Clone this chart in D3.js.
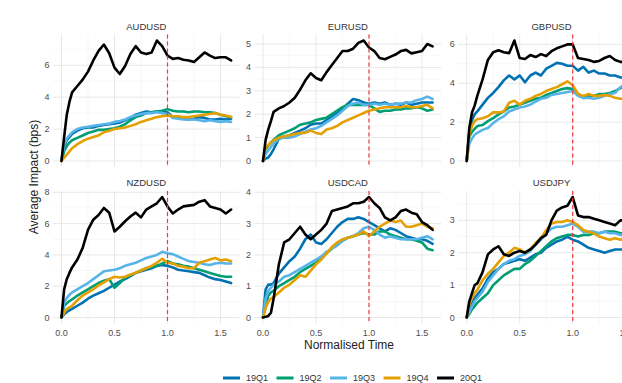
<!DOCTYPE html>
<html>
<head>
<meta charset="utf-8">
<script src="https://cdn.jsdelivr.net/npm/d3@7"></script>
<style>
  body { margin: 0; overflow: hidden; background: #fff; }
  text { font-family: "Liberation Sans", Arial, sans-serif; }
</style>
</head>
<body>
<svg id="chart" width="622" height="383"></svg>
<script>
// normalised time grid shared by every series
const time = [0, 0.025, 0.05, 0.075, 0.1, 0.15, 0.2, 0.25, 0.3, 0.35, 0.4, 0.45, 0.5, 0.55, 0.6, 0.65, 0.7, 0.75,
  0.8, 0.85, 0.9, 0.95, 1, 1.05, 1.1, 1.15, 1.2, 1.25, 1.3, 1.35, 1.4, 1.45, 1.5, 1.55, 1.6];

const quarters = ['19Q1', '19Q2', '19Q3', '19Q4', '20Q1'];
const colours = ['#0072B2', '#009E73', '#56B4E9', '#E69F00', '#000000'];
const pairs = ['AUDUSD', 'EURUSD', 'GBPUSD', 'NZDUSD', 'USDCAD', 'USDJPY'];

// one row per quarter, same order as `quarters`
const audusd = [
  [0, 0.9, 1.3, 1.5, 1.7, 1.9, 2.05, 2.1, 2.1, 2.2, 2.25, 2.3, 2.35, 2.4, 2.55, 2.7, 2.9, 3.0, 3.1, 3.05, 3.1, 3.1, 3.05, 2.75, 2.7, 2.65, 2.6, 2.65, 2.75, 2.7, 2.6, 2.6, 2.65, 2.6, 2.65],
  [0, 0.6, 0.95, 1.15, 1.3, 1.45, 1.6, 1.75, 1.85, 1.95, 1.95, 2.0, 2.05, 2.15, 2.3, 2.55, 2.75, 2.85, 3.0, 3.05, 3.1, 3.15, 3.25, 3.15, 3.1, 3.1, 3.05, 3.1, 3.1, 3.05, 3.05, 3.0, 2.9, 2.8, 2.75],
  [0, 1.0, 1.4, 1.6, 1.8, 2.0, 2.1, 2.15, 2.2, 2.25, 2.3, 2.35, 2.45, 2.5, 2.6, 2.75, 2.85, 2.95, 3.0, 3.0, 3.05, 3.0, 2.95, 2.7, 2.65, 2.6, 2.6, 2.6, 2.55, 2.5, 2.55, 2.5, 2.45, 2.5, 2.45],
  [0, 0.2, 0.4, 0.6, 0.8, 1.05, 1.25, 1.4, 1.5, 1.6, 1.8, 1.9, 2.0, 2.05, 2.1, 2.2, 2.3, 2.45, 2.55, 2.65, 2.75, 2.8, 2.85, 2.8, 2.8, 2.75, 2.75, 2.8, 2.85, 2.9, 2.95, 3.0, 2.9, 2.85, 2.75],
  [0, 1.5, 2.9, 3.7, 4.3, 4.7, 5.1, 5.6, 6.3, 6.9, 7.3, 6.75, 5.85, 5.45, 5.95, 6.7, 7.2, 6.8, 6.7, 6.8, 7.55, 7.2, 6.6, 6.4, 6.45, 6.35, 6.3, 6.2, 6.5, 6.8, 6.6, 6.45, 6.5, 6.5, 6.3]
];
const eurusd = [
  [0, 0.1, 0.15, 0.3, 0.5, 0.95, 1.05, 1.1, 1.2, 1.3, 1.4, 1.55, 1.6, 1.6, 1.75, 1.9, 2.05, 2.25, 2.45, 2.65, 2.6, 2.5, 2.45, 2.5, 2.45, 2.5, 2.4, 2.45, 2.4, 2.5, 2.4, 2.45, 2.5, 2.5, 2.5],
  [0, 0.5, 0.65, 0.8, 0.9, 1.1, 1.2, 1.3, 1.4, 1.55, 1.6, 1.65, 1.75, 1.8, 1.85, 2.0, 2.15, 2.3, 2.4, 2.4, 2.4, 2.4, 2.4, 2.25, 2.1, 2.15, 2.15, 2.2, 2.2, 2.25, 2.25, 2.3, 2.25, 2.15, 2.2],
  [0, 0.3, 0.45, 0.6, 0.75, 0.95, 1.0, 1.0, 1.05, 1.15, 1.25, 1.35, 1.4, 1.5, 1.65, 1.8, 1.95, 2.15, 2.35, 2.45, 2.5, 2.4, 2.4, 2.45, 2.4, 2.45, 2.4, 2.45, 2.45, 2.5, 2.5, 2.6, 2.65, 2.75, 2.65],
  [0, 0.6, 0.68, 0.8, 0.88, 1.0, 1.05, 1.1, 1.15, 1.2, 1.2, 1.3, 1.2, 1.15, 1.35, 1.4, 1.5, 1.65, 1.75, 1.85, 1.95, 2.05, 2.15, 2.2, 2.25, 2.3, 2.3, 2.3, 2.3, 2.35, 2.3, 2.3, 2.35, 2.4, 2.25],
  [0, 0.9, 1.35, 1.7, 2.1, 2.25, 2.35, 2.5, 2.7, 3.05, 3.45, 3.75, 3.55, 3.45, 3.8, 4.1, 4.4, 4.7, 4.7, 4.8, 5.05, 5.15, 4.85, 4.7, 4.4, 4.35, 4.45, 4.55, 4.7, 4.75, 4.6, 4.65, 4.7, 5.0, 4.9]
];
const gbpusd = [
  [0, 1.5, 2.1, 2.4, 2.55, 2.9, 3.25, 3.5, 3.8, 4.15, 4.4, 4.2, 4.4, 4.05, 4.4, 4.55, 4.4, 4.75, 4.9, 5.05, 5.0, 4.9, 4.9, 4.65, 4.85, 4.55, 4.65, 4.5, 4.5, 4.4, 4.4, 4.3, 4.3, 4.25, 4.3],
  [0, 1.25, 1.5, 1.65, 1.8, 1.85, 2.05, 2.2, 2.4, 2.55, 2.75, 2.8, 2.9, 3.0, 3.1, 3.2, 3.25, 3.4, 3.5, 3.6, 3.7, 3.75, 3.7, 3.45, 3.25, 3.35, 3.35, 3.45, 3.45, 3.5, 3.6, 3.75, 3.85, 3.9, 3.95],
  [0, 0.9, 1.15, 1.35, 1.45, 1.6, 1.7, 1.95, 2.15, 2.3, 2.55, 2.65, 2.75, 2.8, 2.9, 3.05, 3.2, 3.25, 3.4, 3.45, 3.5, 3.55, 3.6, 3.35, 3.25, 3.25, 3.2, 3.25, 3.35, 3.45, 3.5, 3.8, 3.95, 4.05, 4.1],
  [0, 1.4, 1.8, 2.05, 2.15, 2.2, 2.3, 2.5, 2.5, 2.55, 3.0, 3.1, 2.9, 3.1, 3.2, 3.35, 3.45, 3.6, 3.7, 3.8, 3.95, 4.1, 3.9, 3.45, 3.35, 3.45, 3.35, 3.35, 3.4, 3.35, 3.25, 3.2, 3.2, 3.25, 3.2],
  [0, 1.7, 2.5, 2.85, 3.35, 4.2, 5.2, 5.6, 5.7, 5.6, 5.55, 6.2, 5.3, 5.25, 5.45, 5.35, 5.5, 5.4, 5.65, 5.8, 5.9, 6.0, 6.0, 5.3, 5.25, 5.2, 5.1, 5.15, 5.3, 5.4, 5.2, 5.1, 5.1, 5.15, 5.1]
];
const nzdusd = [
  [0, 0.2, 0.35, 0.45, 0.55, 0.75, 0.95, 1.2, 1.4, 1.55, 1.7, 1.9, 2.1, 2.3, 2.45, 2.65, 2.85, 2.95, 3.05, 3.15, 3.3, 3.35, 3.3, 3.2, 3.05, 3.0, 2.95, 2.9, 2.85, 2.7, 2.55, 2.45, 2.4, 2.3, 2.2],
  [0, 0.75, 0.9, 1.05, 1.15, 1.4, 1.6, 1.8, 2.0, 2.2, 2.35, 2.45, 1.9, 2.2, 2.55, 2.7, 2.85, 3.0, 3.15, 3.25, 3.3, 3.45, 3.6, 3.45, 3.4, 3.3, 3.25, 3.15, 3.05, 2.95, 2.85, 2.75, 2.65, 2.6, 2.6],
  [0, 0.95, 1.25, 1.45, 1.6, 1.8, 2.0, 2.2, 2.45, 2.7, 2.95, 3.0, 3.05, 3.15, 3.3, 3.4, 3.5, 3.65, 3.8, 3.9, 4.0, 4.2, 4.1, 4.05, 3.9, 3.75, 3.6, 3.55, 3.5, 3.4, 3.35, 3.45, 3.5, 3.45, 3.45],
  [0, 0.3, 0.55, 0.65, 0.75, 1.1, 1.4, 1.6, 1.8, 2.05, 2.25, 2.45, 2.6, 2.55, 2.6, 2.75, 2.85, 3.0, 3.15, 3.3, 3.5, 3.75, 3.5, 3.45, 3.3, 3.25, 3.15, 3.15, 3.5, 3.6, 3.7, 3.8, 3.65, 3.7, 3.6],
  [0, 1.8, 2.45, 2.85, 3.2, 3.7, 4.45, 5.6, 6.25, 6.55, 7.0, 6.7, 5.5, 5.8, 6.15, 6.45, 6.7, 6.4, 6.9, 7.1, 7.3, 7.7, 7.1, 6.65, 6.9, 7.1, 7.15, 7.2, 7.4, 7.5, 7.1, 7.0, 6.9, 6.65, 6.9]
];
const usdcad = [
  [0, 0.9, 1.05, 1.05, 1.1, 1.4, 1.6, 1.8, 1.95, 2.2, 2.5, 2.65, 2.4, 2.35, 2.5, 2.7, 2.9, 3.05, 3.15, 3.15, 3.2, 3.15, 3.05, 2.95, 2.85, 2.75, 2.85, 2.8, 2.7, 2.6, 2.55, 2.5, 2.5, 2.45, 2.35],
  [0, 0.35, 0.7, 0.8, 0.85, 1.0, 1.1, 1.2, 1.3, 1.45, 1.55, 1.65, 1.75, 1.9, 2.05, 2.2, 2.35, 2.45, 2.55, 2.6, 2.65, 2.7, 2.65, 2.65, 2.75, 2.75, 2.65, 2.6, 2.55, 2.5, 2.5, 2.45, 2.4, 2.2, 2.15],
  [0, 0.6, 0.85, 0.95, 1.05, 1.15, 1.3, 1.35, 1.45, 1.55, 1.65, 1.75, 1.85, 1.95, 2.1, 2.2, 2.3, 2.45, 2.55, 2.6, 2.7, 2.85, 2.9, 2.8, 2.65, 2.55, 2.6, 2.55, 2.5, 2.5, 2.5, 2.5, 2.55, 2.6, 2.5],
  [0, 0.3, 0.5, 0.6, 0.65, 0.8, 0.95, 1.05, 1.2, 1.35, 1.3, 1.5, 1.7, 1.85, 2.05, 2.25, 2.4, 2.5, 2.55, 2.6, 2.65, 2.75, 2.6, 2.75, 2.9, 3.0, 3.1, 3.05, 3.1, 2.9, 2.9, 2.95, 3.0, 2.9, 2.85],
  [0, 0.02, 0.05, 0.15, 0.6, 1.7, 2.4, 2.5, 2.7, 2.9, 2.65, 2.5, 2.65, 2.8, 3.0, 3.4, 3.45, 3.5, 3.55, 3.65, 3.65, 3.7, 3.85, 3.65, 3.5, 3.2, 3.1, 3.2, 3.4, 3.45, 3.35, 3.3, 3.05, 2.95, 2.8]
];
const usdjpy = [
  [0, 0.25, 0.45, 0.6, 0.7, 0.9, 1.2, 1.4, 1.5, 1.65, 1.7, 1.75, 1.8, 1.75, 1.85, 1.95, 2.0, 2.15, 2.25, 2.35, 2.4, 2.5, 2.4, 2.35, 2.25, 2.15, 2.1, 2.05, 2.0, 2.05, 2.1, 2.1, 2.1, 2.05, 2.1],
  [0, 0.1, 0.25, 0.35, 0.45, 0.6, 0.75, 1.0, 1.15, 1.3, 1.4, 1.5, 1.5, 1.65, 1.75, 1.9, 2.05, 2.2, 2.35, 2.45, 2.5, 2.55, 2.55, 2.5, 2.55, 2.55, 2.6, 2.6, 2.65, 2.65, 2.65, 2.6, 2.6, 2.6, 2.6],
  [0, 0.15, 0.35, 0.5, 0.6, 0.8, 1.1, 1.3, 1.5, 1.65, 1.75, 1.8, 1.9, 1.95, 2.05, 2.25, 2.4, 2.6, 2.75, 2.8, 2.8, 2.85, 2.9, 2.8, 2.65, 2.65, 2.65, 2.6, 2.65, 2.6, 2.6, 2.55, 2.55, 2.6, 2.55],
  [0, 0.4, 0.6, 0.75, 0.85, 1.15, 1.35, 1.5, 1.7, 1.9, 2.0, 2.15, 2.1, 2.0, 2.1, 2.3, 2.45, 2.7, 2.9, 2.95, 2.95, 3.0, 2.95, 2.85, 2.7, 2.65, 2.6, 2.5, 2.45, 2.4, 2.45, 2.4, 2.45, 2.45, 2.5],
  [0, 0.5, 0.75, 1.0, 1.05, 1.4, 1.95, 2.1, 2.2, 1.95, 1.9, 2.0, 2.05, 2.0, 2.1, 2.25, 2.45, 2.55, 3.0, 3.3, 3.4, 3.45, 3.72, 3.15, 3.1, 3.1, 3.05, 3.0, 2.95, 2.9, 2.85, 3.0, 3.0, 2.95, 3.0]
];
const panelData = [audusd, eurusd, gbpusd, nzdusd, usdcad, usdjpy];

const xTicks = [0, 0.5, 1, 1.5];
const yTicks = [[0, 2, 4, 6], [0, 1, 2, 3, 4, 5], [0, 2, 4, 6], [0, 2, 4, 6, 8], [0, 1, 2, 3, 4], [0, 1, 2, 3]];
const eventTime = 1;

// layout
const svg = d3.select('#chart');
const colLeft = [53, 254.5, 458.2];
const rowTop = [34.5, 191];
const panelW = 186.6;
const panelH = 132.5;
const gridMajor = '#e8e8e8';
const gridMinor = '#f2f2f2';
const tickColour = '#4d4d4d';

const expand = (lo, hi) => { const d = (hi - lo) * 0.05; return [lo - d, hi + d]; };

function minorTicks(major, domain) {
  const step = major[1] - major[0];
  const out = [];
  for (let i = -1; i < major.length; i++) {
    const v = (i < 0 ? major[0] - step : major[i]) + step / 2;
    if (v >= domain[0] && v <= domain[1]) out.push(v);
  }
  return out;
}

pairs.forEach((pair, p) => {
  const col = p % 3;
  const row = Math.floor(p / 3);
  const left = colLeft[col];
  const top = rowTop[row];
  const series = panelData[p];

  const allTimes = d3.extent(time);
  const allVals = [d3.min(series, s => d3.min(s)), d3.max(series, s => d3.max(s))];

  const x = d3.scaleLinear().domain(expand(allTimes[0], allTimes[1])).range([left, left + panelW]);
  const y = d3.scaleLinear().domain(expand(allVals[0], allVals[1])).range([top + panelH, top]);

  const g = svg.append('g').attr('class', 'panel');

  // minor grid
  g.selectAll('.xminor').data(minorTicks(xTicks, x.domain())).enter().append('line')
    .attr('x1', d => x(d)).attr('x2', d => x(d))
    .attr('y1', top).attr('y2', top + panelH)
    .attr('stroke', gridMinor).attr('stroke-width', 0.6);
  g.selectAll('.yminor').data(minorTicks(yTicks[p], y.domain())).enter().append('line')
    .attr('x1', left).attr('x2', left + panelW)
    .attr('y1', d => y(d)).attr('y2', d => y(d))
    .attr('stroke', gridMinor).attr('stroke-width', 0.6);

  // major grid
  g.selectAll('.xmajor').data(xTicks).enter().append('line')
    .attr('x1', d => x(d)).attr('x2', d => x(d))
    .attr('y1', top).attr('y2', top + panelH)
    .attr('stroke', gridMajor).attr('stroke-width', 1);
  g.selectAll('.ymajor').data(yTicks[p]).enter().append('line')
    .attr('x1', left).attr('x2', left + panelW)
    .attr('y1', d => y(d)).attr('y2', d => y(d))
    .attr('stroke', gridMajor).attr('stroke-width', 1);

  // y tick labels
  g.selectAll('.ylab').data(yTicks[p]).enter().append('text')
    .attr('x', left - 3.5)
    .attr('y', d => y(d))
    .attr('dy', '0.34em')
    .attr('text-anchor', 'end')
    .attr('font-size', 9)
    .attr('fill', tickColour)
    .text(d => d);

  // x tick labels only on the bottom row
  if (row === 1) {
    g.selectAll('.xlab').data(xTicks).enter().append('text')
      .attr('x', d => x(d))
      .attr('y', top + panelH + 12.5)
      .attr('text-anchor', 'middle')
      .attr('font-size', 9)
      .attr('fill', tickColour)
      .text(d => d3.format('.1f')(d));
  }

  // strip title
  g.append('text')
    .attr('x', left + panelW / 2)
    .attr('y', top - 5)
    .attr('text-anchor', 'middle')
    .attr('font-size', 9.5)
    .attr('fill', '#333')
    .text(pair);

  const line = d3.line()
    .x((d, i) => x(time[i]))
    .y(d => y(d));

  g.selectAll('.series').data(series).enter().append('path')
    .attr('d', d => line(d))
    .attr('fill', 'none')
    .attr('stroke', (d, i) => colours[i])
    .attr('stroke-width', 2.6)
    .attr('stroke-linejoin', 'round')
    .attr('stroke-linecap', 'round');

  g.append('line')
    .attr('x1', x(eventTime)).attr('x2', x(eventTime))
    .attr('y1', top).attr('y2', top + panelH)
    .attr('stroke', '#f03b3b')
    .attr('stroke-width', 1.2)
    .attr('stroke-dasharray', '4,3');
});

// axis titles
svg.append('text')
  .attr('x', 349)
  .attr('y', 349)
  .attr('text-anchor', 'middle')
  .attr('font-size', 12)
  .attr('fill', '#222')
  .text('Normalised Time');

svg.append('text')
  .attr('transform', 'translate(37.5,177) rotate(-90)')
  .attr('text-anchor', 'middle')
  .attr('font-size', 12)
  .attr('fill', '#222')
  .text('Average Impact (bps)');

// legend
const legend = svg.append('g').attr('transform', 'translate(223,378)');
const items = legend.selectAll('g').data(quarters).enter().append('g')
  .attr('transform', (d, i) => `translate(${i * 53.5},0)`);
items.append('line')
  .attr('x1', 0).attr('x2', 17)
  .attr('stroke', (d, i) => colours[i])
  .attr('stroke-width', 3);
items.append('text')
  .attr('x', 23)
  .attr('dy', '0.34em')
  .attr('font-size', 9)
  .attr('fill', '#333')
  .text(d => d);
</script>
</body>
</html>
